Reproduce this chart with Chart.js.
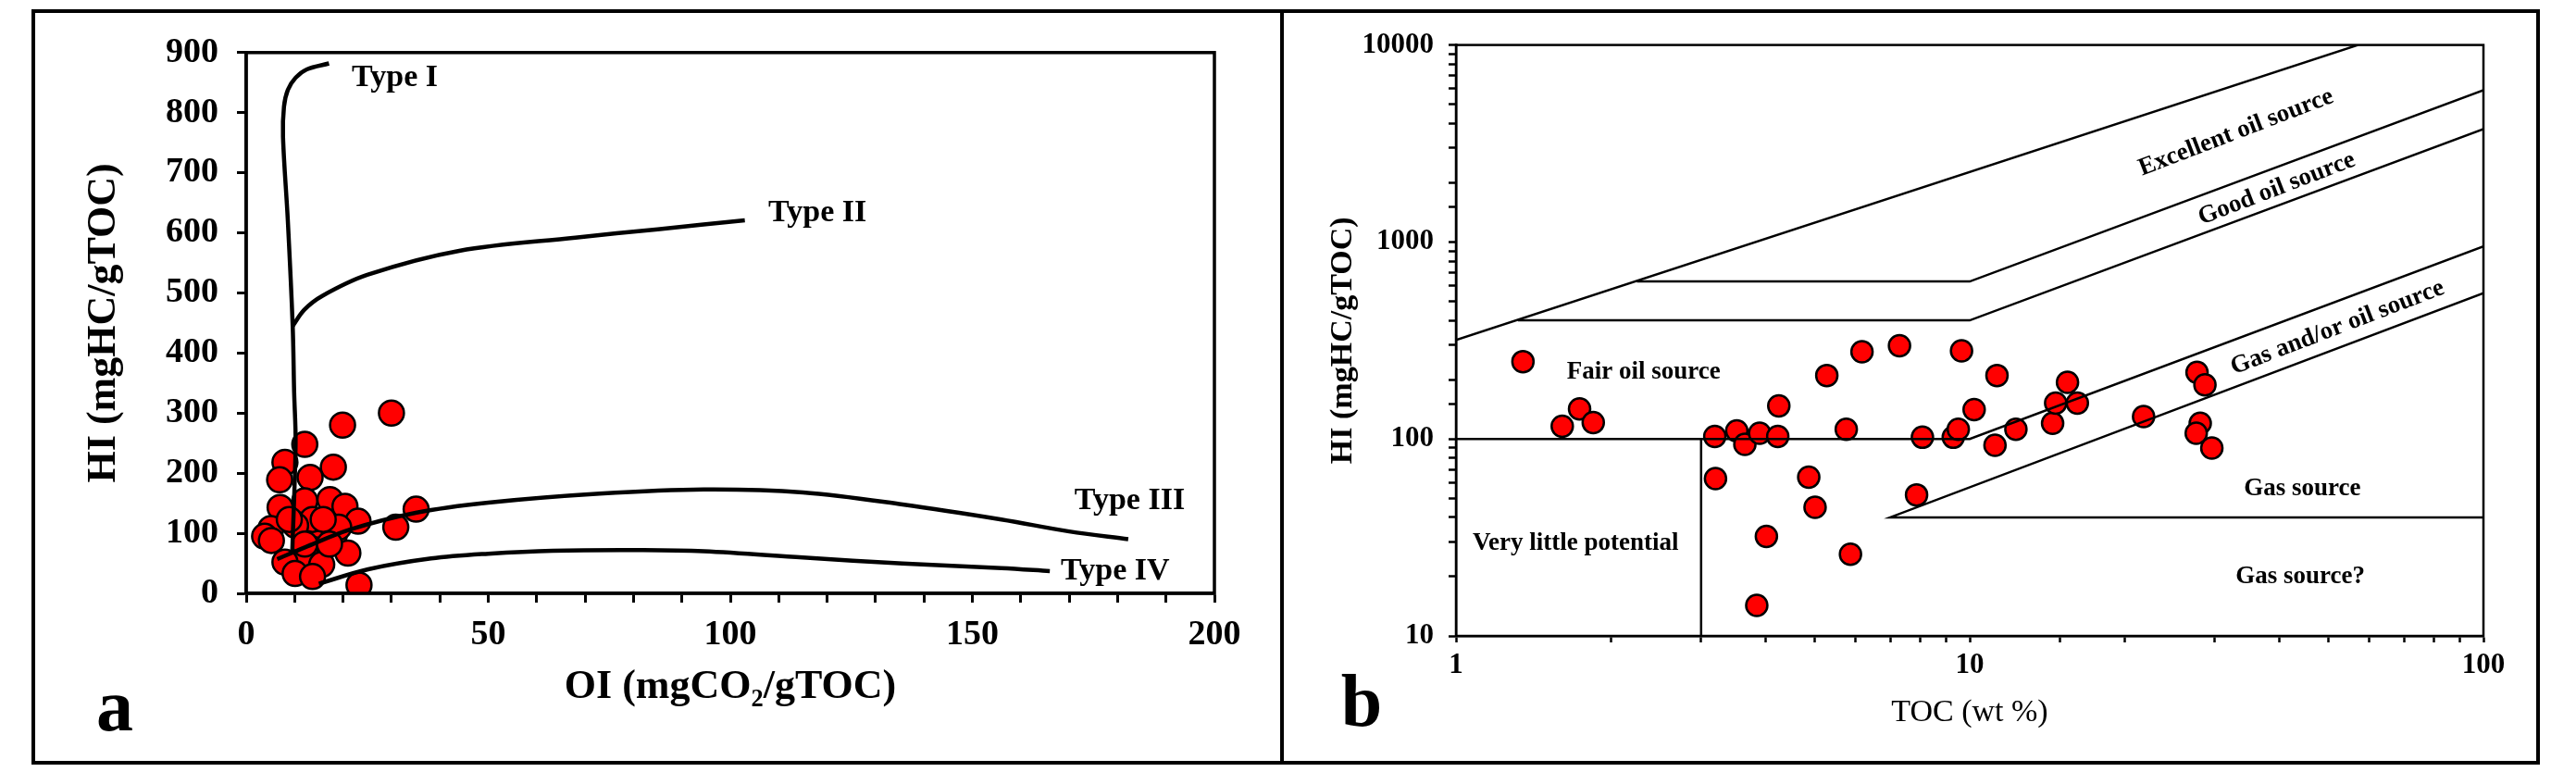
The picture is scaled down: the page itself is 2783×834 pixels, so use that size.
<!DOCTYPE html>
<html>
<head>
<meta charset="utf-8">
<script src="https://cdn.jsdelivr.net/npm/chart.js@4.4.1/dist/chart.umd.min.js"></script>
<style>
  html, body { margin: 0; padding: 0; background: #fff; }
  body { width: 2783px; height: 834px; position: relative; overflow: hidden; }
  .frame { position: absolute; left: 34px; top: 10px; width: 2702px; height: 808px; border: 4px solid #000; }
  .divider { position: absolute; left: 1383px; top: 10px; width: 4px; height: 816px; background: #000; }
  .box { position: absolute; top: 14px; height: 805px; }
  #boxA { left: 38px; width: 1345px; }
  #boxB { left: 1389px; width: 1347px; }
  .panel { position: absolute; font: bold 80px 'Liberation Serif', 'Times New Roman', serif; line-height: 1; transform: translate(-50%, -50%); }
</style>
</head>
<body>
<div class="frame"></div>
<div class="divider"></div>
<div class="box" id="boxA"><canvas id="chartA"></canvas></div>
<div class="box" id="boxB"><canvas id="chartB"></canvas></div>
<div class="panel" style="left:124px; top:762px;">a</div>
<div class="panel" style="left:1471px; top:757px;">b</div>
<script>
// ---- panel a: HI vs OI (van Krevelen type) ----
const oiValues = [30.0, 19.9, 12.1, 8.0, 18.0, 6.9, 13.2, 7.0, 12.1, 17.3, 20.4, 35.1, 23.1, 5.1, 30.9,
                  3.8, 5.2, 11.5, 15.2, 13.7, 18.2, 19.1, 12.4, 21.0, 8.0, 10.1, 15.6, 13.7, 23.3, 10.2,
                  12.1, 17.2, 8.9, 15.9];
const hiValuesA = [300, 280, 248, 218, 210, 189, 193, 143, 154, 156, 145, 140, 120, 108, 110,
                   95, 88, 113, 113, 123, 97, 110, 62, 67, 52, 33, 48, 28, 14, 113,
                   82, 82, 123, 123];

const typeIOI = [9.5, 10.2, 9.9, 9.6, 8.6, 7.6, 7.8, 8.6, 10.2, 12.5, 17.1];
const typeIHI = [66, 250, 335, 445, 620, 760, 810, 838, 858, 872, 882];
const typeIIOI = [9.6, 12, 15.7, 25, 44, 68, 85, 103];
const typeIIHI = [445, 472, 495, 530, 570, 592, 606, 621];
const typeIIIOI = [6.4, 12, 21.4, 35, 50, 73, 94.5, 115, 135.6, 156, 170, 182.2];
const typeIIIHI = [57, 76, 106, 134, 151, 166, 173, 168, 148, 123, 103, 90];
const typeIVOI = [15, 25.2, 38.2, 50, 63.3, 82, 94.5, 115, 135.6, 156, 166];
const typeIVHI = [16, 40, 58, 66, 71, 72, 70, 59.6, 49.5, 41.9, 37];

// ---- panel b: HI vs TOC ----
const tocValues = [1.35, 1.61, 1.74, 1.85, 3.19, 3.2, 3.52, 3.65, 3.9, 3.85, 4.02, 4.23, 4.25, 4.86,
                   5.0, 5.27, 5.75, 5.86, 6.17, 7.3, 7.88, 8.09, 9.29, 9.5, 9.64, 10.2, 11.2, 11.3,
                   12.3, 14.5, 14.7, 15.5, 16.2, 21.8, 27.7, 28.7, 28.1, 27.6, 29.6];
const hiValuesB = [247, 116, 142, 121, 103, 63, 110, 94, 107, 14.3, 32, 103, 147, 64,
                   45, 210, 112, 26, 277, 297, 52, 102, 102, 112, 280, 141, 93, 210,
                   112, 120, 152, 194, 152, 130, 218, 188, 120, 107, 90];

// boundary lines of the source-rock fields
const excellentTOC = [1, 57];
const excellentHI = [318, 10000];
const goodUpperTOC = [2.25, 10, 100];
const goodUpperHI = [630, 630, 5900];
const goodLowerTOC = [1.32, 10, 100];
const goodLowerHI = [400, 400, 3740];
const fairTOC = [1, 10, 100];
const fairHI = [100, 100, 950];
const littleTOC = [3, 3];
const littleHI = [10, 100];
const gasTOC = [100, 7, 100];
const gasHI = [550, 40, 40];

const serif = "'Liberation Serif', 'Times New Roman', serif";
const pts = (xs, ys) => xs.map((v, i) => ({ x: v, y: ys[i] }));

const labelPlugin = {
    id: 'labels',
    afterDatasetsDraw(chart, args, opts) {
        const { ctx, scales: { x, y } } = chart;
        (opts.items || []).forEach(it => {
            ctx.save();
            ctx.translate(x.getPixelForValue(it.x), y.getPixelForValue(it.y));
            ctx.rotate((it.rot || 0) * Math.PI / 180);
            ctx.font = it.font;
            ctx.fillStyle = '#000';
            ctx.textAlign = 'center';
            ctx.textBaseline = 'middle';
            ctx.fillText(it.text, 0, 0);
            ctx.restore();
        });
    }
};

const boxPlugin = {
    id: 'plotBox',
    afterDraw(chart, args, opts) {
        const { ctx, chartArea: a } = chart;
        ctx.save();
        ctx.strokeStyle = '#000';
        ctx.lineWidth = opts.width || 3;
        ctx.strokeRect(a.left, a.top, a.right - a.left, a.bottom - a.top);
        ctx.restore();
    }
};

function curve(xs, ys) {
    return {
        type: 'line', data: pts(xs, ys), showLine: true, pointRadius: 0,
        borderColor: '#000', borderWidth: 4.5, tension: 0.35, fill: false, order: 0
    };
}

function segs(xs, ys) {
    return {
        type: 'line', data: pts(xs, ys), showLine: true, pointRadius: 0,
        borderColor: '#000', borderWidth: 2.5, tension: 0, fill: false, order: 0
    };
}

Chart.defaults.font.family = serif;
Chart.defaults.color = '#000';

new Chart(document.getElementById('chartA'), {
    type: 'scatter',
    data: {
        datasets: [
            curve(typeIOI, typeIHI),
            curve(typeIIOI, typeIIHI),
            curve(typeIIIOI, typeIIIHI),
            curve(typeIVOI, typeIVHI),
            {
                data: pts(oiValues, hiValuesA), pointRadius: 13.5, pointHoverRadius: 13.5,
                backgroundColor: '#ff0000', borderColor: '#000', borderWidth: 2.5, order: 1
            }
        ]
    },
    options: {
        responsive: true,
        maintainAspectRatio: false,
        animation: false,
        layout: { padding: { top: 33, right: 71, left: 0, bottom: 0 } },
        plugins: {
            legend: { display: false },
            tooltip: { enabled: false },
            plotBox: { width: 3.5 },
            labels: {
                items: [
                    { text: 'Type I', x: 30.7, y: 857, font: 'bold 34px ' + serif },
                    { text: 'Type II', x: 118, y: 633, font: 'bold 34px ' + serif },
                    { text: 'Type III', x: 182.5, y: 153, font: 'bold 34px ' + serif },
                    { text: 'Type IV', x: 179.5, y: 37, font: 'bold 34px ' + serif }
                ]
            }
        },
        scales: {
            x: {
                type: 'linear', min: 0, max: 200,
                afterFit: s => { s.height = 178; },
                border: { display: true, color: '#000', width: 3.5 },
                grid: { drawOnChartArea: false, drawTicks: true, tickLength: 10, tickColor: '#000', tickWidth: 3 },
                ticks: {
                    stepSize: 10, autoSkip: false, maxRotation: 0, minRotation: 0, padding: 12,
                    font: { size: 38, weight: 'bold' },
                    callback: v => (v % 50 === 0 ? String(v) : '')
                },
                title: { display: true, text: 'OI (mgCO₂/gTOC)', font: { size: 44, weight: 'bold' }, padding: { bottom: 50 } }
            },
            y: {
                type: 'linear', min: 0, max: 900,
                afterFit: s => { s.width = 228; },
                border: { display: true, color: '#000', width: 3.5 },
                grid: { drawOnChartArea: false, drawTicks: true, tickLength: 10, tickColor: '#000', tickWidth: 3 },
                ticks: { stepSize: 100, autoSkip: false, padding: 20, font: { size: 38, weight: 'bold' } },
                title: { display: true, text: 'HI (mgHC/gTOC)', font: { size: 44, weight: 'bold' }, padding: { top: 48 } }
            }
        }
    },
    plugins: [labelPlugin, boxPlugin]
});

new Chart(document.getElementById('chartB'), {
    type: 'scatter',
    data: {
        datasets: [
            segs(excellentTOC, excellentHI),
            segs(goodUpperTOC, goodUpperHI),
            segs(goodLowerTOC, goodLowerHI),
            segs(fairTOC, fairHI),
            segs(littleTOC, littleHI),
            segs(gasTOC, gasHI),
            {
                data: pts(tocValues, hiValuesB), pointRadius: 11.5, pointHoverRadius: 11.5,
                backgroundColor: '#ff0000', borderColor: '#000', borderWidth: 2.5, order: 1
            }
        ]
    },
    options: {
        responsive: true,
        maintainAspectRatio: false,
        animation: false,
        layout: { padding: { top: 33, right: 53, left: 0, bottom: 0 } },
        plugins: {
            legend: { display: false },
            tooltip: { enabled: false },
            plotBox: { width: 2.5 },
            labels: {
                items: [
                    { text: 'Excellent oil source', x: 33, y: 3590, rot: -21, font: 'bold 27px ' + serif },
                    { text: 'Good oil source', x: 39.6, y: 1860, rot: -21, font: 'bold 27px ' + serif },
                    { text: 'Gas and/or oil source', x: 52, y: 367, rot: -21, font: 'bold 27px ' + serif },
                    { text: 'Fair oil source', x: 2.32, y: 219, font: 'bold 27px ' + serif },
                    { text: 'Gas source', x: 44.4, y: 56, font: 'bold 27px ' + serif },
                    { text: 'Very little potential', x: 1.71, y: 29.4, font: 'bold 27px ' + serif },
                    { text: 'Gas source?', x: 44, y: 20, font: 'bold 27px ' + serif }
                ]
            }
        },
        scales: {
            x: {
                type: 'logarithmic', min: 1, max: 100,
                afterFit: s => { s.height = 132; },
                border: { display: true, color: '#000', width: 2.5 },
                grid: { drawOnChartArea: false, drawTicks: true, tickLength: 7, tickColor: '#000', tickWidth: 2.5 },
                ticks: {
                    autoSkip: false, maxRotation: 0, minRotation: 0, padding: 6,
                    font: { size: 31, weight: 'bold' },
                    callback: v => ([1, 10, 100].includes(v) ? String(v) : '')
                },
                title: { display: true, text: 'TOC (wt %)', font: { size: 34, weight: 'normal' }, padding: { bottom: 29 } }
            },
            y: {
                type: 'logarithmic', min: 10, max: 10000,
                afterFit: s => { s.width = 184; },
                border: { display: true, color: '#000', width: 2.5 },
                grid: { drawOnChartArea: false, drawTicks: true, tickLength: 8, tickColor: '#000', tickWidth: 2.5 },
                ticks: {
                    autoSkip: false, padding: 16,
                    font: { size: 31, weight: 'bold' },
                    callback: v => ([10, 100, 1000, 10000].includes(v) ? String(v) : '')
                },
                title: { display: true, text: 'HI (mgHC/gTOC)', font: { size: 34, weight: 'bold' }, padding: { top: 42 } }
            }
        }
    },
    plugins: [labelPlugin, boxPlugin]
});
</script>
</body>
</html>
